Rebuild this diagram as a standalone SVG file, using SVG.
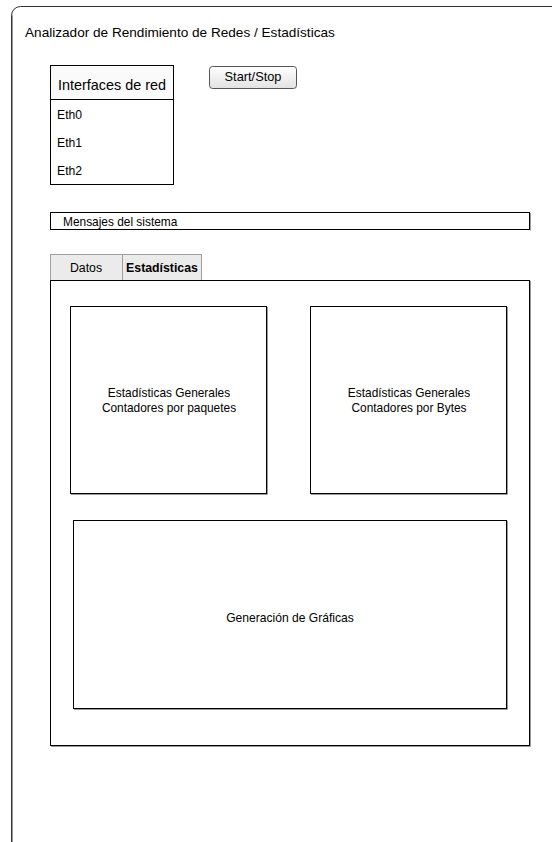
<svg xmlns="http://www.w3.org/2000/svg" width="552" height="842" viewBox="0 0 552 842">
<style>
  text { font-family: "Liberation Sans", Arial, sans-serif; fill: #000; }
  .box { fill: #fff; stroke: #000; stroke-width: 1; }
  .shadow { fill: none; stroke: #9a9a9a; stroke-width: 1; }
  .tab { fill: #ebebeb; stroke: #a0a0a0; stroke-width: 1; }
  .small { font-size: 11.9px; }
  .eth { font-size: 12.2px; }
  .tabtxt { font-size: 12.3px; }
</style>
<defs>
  <linearGradient id="btn" x1="0" y1="0" x2="0" y2="1">
    <stop offset="0" stop-color="#ffffff"/>
    <stop offset="1" stop-color="#e2e2e2"/>
  </linearGradient>
</defs>

<g id="frame">
  <rect x="11.5" y="6.5" width="560" height="850" rx="9" ry="9" fill="#fff" stroke="#333" stroke-width="1"/>
  <line x1="12.5" y1="15" x2="12.5" y2="842" stroke="#999" stroke-width="1"/>
  <text x="25" y="37" font-size="13.6">Analizador de Rendimiento de Redes / Estadísticas</text>
</g>

<g id="interfaces">
  <rect class="box" x="50.5" y="65.5" width="123" height="119"/>
  <rect x="51" y="66" width="122" height="33" fill="#fafafa"/>
  <line x1="50.5" y1="99.5" x2="173.5" y2="99.5" stroke="#000"/>
  <text x="112" y="90" font-size="14.4" text-anchor="middle">Interfaces de red</text>
  <text class="eth" x="57" y="119">Eth0</text>
  <text class="eth" x="57" y="147">Eth1</text>
  <text class="eth" x="57" y="175">Eth2</text>
</g>

<g id="startstop">
  <rect x="209.5" y="66.5" width="87" height="22" rx="3" ry="3" fill="url(#btn)" stroke="#555" stroke-width="1"/>
  <text x="253" y="81" font-size="12.8" text-anchor="middle">Start/Stop</text>
</g>

<g id="mensajes">
  <rect class="box" x="50.5" y="212.5" width="479" height="17"/>
  <line class="shadow" x1="530.5" y1="213" x2="530.5" y2="230.5"/>
  <text class="small" x="63" y="226">Mensajes del sistema</text>
</g>

<g id="tabs">
  <rect class="tab" x="50.5" y="254.5" width="72" height="26"/>
  <text class="tabtxt" x="86" y="272" text-anchor="middle">Datos</text>
  <rect class="tab" x="122.5" y="254.5" width="79" height="26"/>
  <text class="tabtxt" x="162" y="272" text-anchor="middle" font-weight="bold" font-size="12">Estadísticas</text>
</g>

<g id="contenido">
  <rect class="box" x="50.5" y="280.5" width="479" height="465"/>
  <polyline class="shadow" points="530.5,281 530.5,746.5 51,746.5"/>
</g>

<g id="paquetes">
  <rect class="box" x="70.5" y="306.5" width="196" height="187"/>
  <polyline class="shadow" points="267.5,307 267.5,494.5 71,494.5"/>
  <text class="small" x="169" y="397" text-anchor="middle">Estadísticas Generales</text>
  <text class="small" x="169" y="412" text-anchor="middle">Contadores por paquetes</text>
</g>

<g id="bytes">
  <rect class="box" x="310.5" y="306.5" width="196" height="187"/>
  <polyline class="shadow" points="507.5,307 507.5,494.5 311,494.5"/>
  <text class="small" x="409" y="397" text-anchor="middle">Estadísticas Generales</text>
  <text class="small" x="409" y="412" text-anchor="middle">Contadores por Bytes</text>
</g>

<g id="graficas">
  <rect class="box" x="73.5" y="520.5" width="433" height="188"/>
  <polyline class="shadow" points="507.5,521 507.5,709.5 74,709.5"/>
  <text x="290" y="622" font-size="12.1" text-anchor="middle">Generación de Gráficas</text>
</g>

<g id="connectors"></g>
</svg>
